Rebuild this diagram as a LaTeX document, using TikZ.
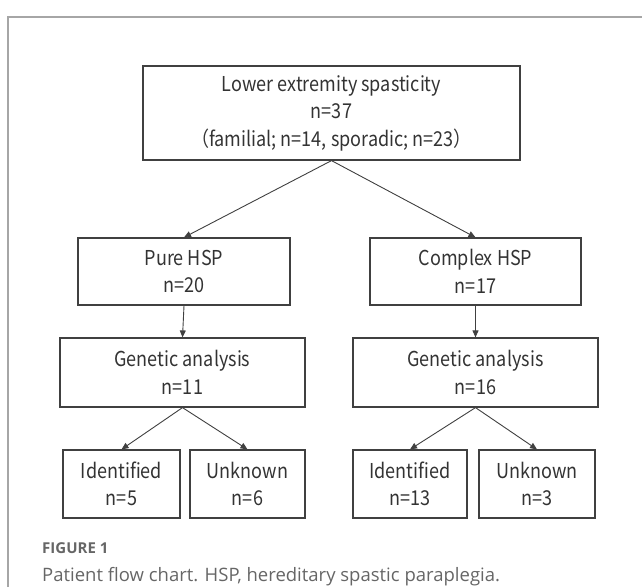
\documentclass[tikz,border=0pt]{standalone}
\usepackage{fontspec}
\usepackage{tikz}
\usetikzlibrary{arrows.meta}
\newfontfamily\boxfont{Noto Sans CJK JP}[FakeStretch=0.88]
\newfontfamily\capfont{Open Sans}
\definecolor{framegray}{HTML}{A6A6A6}
\definecolor{linegray}{HTML}{404040}
\definecolor{capgray}{HTML}{666666}

\tikzset{
  flowbox/.style={draw=linegray, line width=1.2, align=center, inner sep=0pt,
    text=black!80, font=\boxfont\fontsize{20.5}{27.5}\selectfont},
  flowarrow/.style={draw=linegray, line width=0.9, -{Triangle[length=7,width=6]}}
}

\begin{document}
\begin{tikzpicture}[x=1pt,y=-1pt]
\useasboundingbox (0,0) rectangle (642,587);
% outer frame
\draw[framegray, line width=1.3] (8,587) -- (8,17) -- (642,17);

% boxes
\node[flowbox, minimum width=377, minimum height=94] (top) at (331.5,113)
  {Lower extremity spasticity\\n=37\\（familial; n=14, sporadic; n=23）};
\node[flowbox, minimum width=212, minimum height=67] (pure) at (184,271.5) {Pure HSP\\n=20};
\node[flowbox, minimum width=211, minimum height=67] (complex) at (475.5,271.5) {Complex HSP\\n=17};
\node[flowbox, minimum width=245, minimum height=69] (genL) at (182.5,372.5) {Genetic analysis\\n=11};
\node[flowbox, minimum width=245, minimum height=69] (genR) at (475.5,372.5) {Genetic analysis\\n=16};
\node[flowbox, minimum width=117, minimum height=68] (idL) at (121.5,484) {Identified\\n=5};
\node[flowbox, minimum width=115, minimum height=68] (unL) at (247.5,484) {Unknown\\n=6};
\node[flowbox, minimum width=114, minimum height=68] (idR) at (410,484) {Identified\\n=13};
\node[flowbox, minimum width=116, minimum height=68] (unR) at (537,484) {Unknown\\n=3};

% connectors
\draw[flowarrow] (top.south) -- (pure.north);
\draw[flowarrow] (top.south) -- (complex.north);
\draw[flowarrow] (pure.south) -- (genL.north);
\draw[flowarrow] (complex.south) -- (genR.north);
\draw[flowarrow] (genL.south) -- (idL.north);
\draw[flowarrow] (genL.south) -- (unL.north);
\draw[flowarrow] (genR.south) -- (idR.north);
\draw[flowarrow] (genR.south) -- (unR.north);

% caption
\node[anchor=base west, inner sep=0pt, text=capgray, font=\capfont\bfseries\fontsize{15}{17}\selectfont] (fig) at (42,553) {FIGURE 1};
\node[anchor=base west, inner sep=0pt, text=capgray, font=\capfont\fontsize{18.5}{22}\selectfont] (cap) at (42,581)
  {Patient flow chart. HSP, hereditary spastic paraplegia.};
\end{tikzpicture}
\end{document}
